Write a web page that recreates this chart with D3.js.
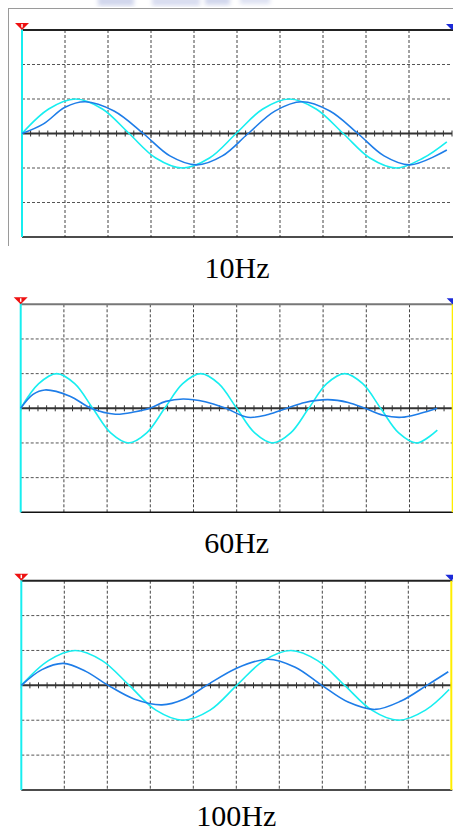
<!DOCTYPE html>
<html>
<head>
<meta charset="utf-8">
<script src="https://cdn.jsdelivr.net/npm/d3@7"></script>
<style>
  html, body { margin: 0; padding: 0; background: #fff; }
  svg { display: block; }
</style>
</head>
<body>
<div id="chart"></div>
<script>
// Traces: [time (div), level (div)]
var cyan10 = [[0,0],[0.62,0.71],[1.24,1],[1.87,0.71],[2.49,0],[3.11,-0.71],[3.73,-1],[4.36,-0.71],[4.98,0],
	[5.6,0.71],[6.22,1],[6.84,0.71],[7.47,0],[8.09,-0.71],[8.71,-1],[9.33,-0.71],[9.88,-0.24]];
var blue10 = [[0,0],[0.5,0.28],[1.0,0.76],[1.47,0.92],[2.14,0.65],[2.82,0],[3.44,-0.65],[4.06,-0.91],[4.66,-0.65],
	[5.26,0],[5.88,0.65],[6.51,0.92],[7.16,0.65],[7.81,0],[8.42,-0.65],[9.02,-0.91],[9.88,-0.48]];

var cyan60 = [[0,0],[0.417,0.71],[0.833,1],[1.25,0.71],[1.667,0],[2.083,-0.71],[2.5,-1],[2.917,-0.71],[3.333,0],
	[3.75,0.71],[4.167,1],[4.583,0.71],[5.0,0],[5.417,-0.71],[5.833,-1],[6.25,-0.71],[6.667,0],[7.083,0.71],
	[7.5,1],[7.917,0.71],[8.333,0],[8.75,-0.71],[9.167,-1],[9.644,-0.63]];
var blue60 = [[0,0],[0.285,0.4],[0.56,0.53],[1.14,0.35],[1.63,0],[2.19,-0.17],[2.65,-0.1],[2.99,0],[3.36,0.2],
	[3.76,0.27],[4.27,0.19],[4.75,0],[5.26,-0.26],[5.73,-0.18],[6.16,0],[6.58,0.17],[7.11,0.25],[7.58,0.17],
	[7.97,0],[8.39,-0.2],[8.81,-0.26],[9.24,-0.15],[9.64,0]];

var cyan100 = [[0,0],[0.63,0.71],[1.25,1],[1.88,0.71],[2.51,0],[3.13,-0.71],[3.76,-1],[4.39,-0.71],[5.01,0],
	[5.64,0.71],[6.27,1],[6.89,0.71],[7.52,0],[8.15,-0.71],[8.77,-1],[9.4,-0.71],[9.95,-0.12]];
var blue100 = [[0,0],[0.48,0.45],[0.98,0.63],[1.5,0.4],[2.02,0],[2.64,-0.4],[3.27,-0.56],[3.78,-0.4],[4.31,0],
	[5.02,0.5],[5.74,0.75],[6.37,0.52],[6.99,0],[7.6,-0.48],[8.23,-0.69],[8.83,-0.45],[9.43,0],[9.93,0.39]];

var panelLabels = ["10Hz", "60Hz", "100Hz"];

var W = 453, H = 832;
var svg = d3.select("#chart").append("svg")
	.attr("width", W)
	.attr("height", H);

// faint watermark smudge at the very top
var defs = svg.append("defs");
defs.append("filter").attr("id", "blur")
	.append("feGaussianBlur").attr("stdDeviation", 2);
var wm = svg.append("g").attr("filter", "url(#blur)").attr("opacity", 0.45);
wm.append("rect").attr("x", 98).attr("y", -4).attr("width", 36).attr("height", 10).attr("fill", "#9aa6d6");
wm.append("rect").attr("x", 152).attr("y", -4).attr("width", 48).attr("height", 10).attr("fill", "#aab4de");
wm.append("rect").attr("x", 205).attr("y", -4).attr("width", 25).attr("height", 9).attr("fill", "#9aa6d6");
wm.append("rect").attr("x", 240).attr("y", -4).attr("width", 30).attr("height", 8).attr("fill", "#b4bde2");

// Panel boxes (pixel layout)
var panels = [
	{x0: 22, x1: 452, y0: 30, y1: 237, labelY: 278, cyan: cyan10, blue: blue10, frame: true, yellow: false, topColor: "#222"},
	{x0: 20.7, x1: 452.7, y0: 304.3, y1: 512.3, labelY: 553, cyan: cyan60, blue: blue60, frame: false, yellow: true, topColor: "#777"},
	{x0: 21.3, x1: 451.3, y0: 580.7, y1: 790, labelY: 826, cyan: cyan100, blue: blue100, frame: false, yellow: true, topColor: "#222"}
];

var cyanColor = "#17eef0";
var blueColor = "#1e7de8";

panels.forEach(function(p, idx) {
	var x = d3.scaleLinear().domain([0, 10]).range([p.x0, p.x1]);
	var y = d3.scaleLinear().domain([-3, 3]).range([p.y1, p.y0]);

	var g = svg.append("g").attr("class", "panel");

	if (p.frame) {
		g.append("line").attr("x1", 8).attr("x2", W).attr("y1", 8.5).attr("y2", 8.5)
			.attr("stroke", "#9a9a9a").attr("stroke-width", 1);
		g.append("line").attr("x1", 8.5).attr("x2", 8.5).attr("y1", 8).attr("y2", 246)
			.attr("stroke", "#9a9a9a").attr("stroke-width", 1);
	}

	// dashed grid
	g.append("g").selectAll("line")
		.data(d3.range(1, 10))
		.enter().append("line")
		.attr("x1", function(d) { return x(d); })
		.attr("x2", function(d) { return x(d); })
		.attr("y1", p.y0)
		.attr("y2", p.y1)
		.attr("stroke", "#444")
		.attr("stroke-width", 1)
		.attr("stroke-dasharray", "3,2");

	g.append("g").selectAll("line")
		.data([-2, -1, 1, 2])
		.enter().append("line")
		.attr("x1", p.x0)
		.attr("x2", p.x1)
		.attr("y1", function(d) { return y(d); })
		.attr("y2", function(d) { return y(d); })
		.attr("stroke", "#555")
		.attr("stroke-width", 1)
		.attr("stroke-dasharray", "3,2");

	// centre axis with minor ticks
	g.append("line")
		.attr("x1", p.x0).attr("x2", p.x1)
		.attr("y1", y(0)).attr("y2", y(0))
		.attr("stroke", "#333").attr("stroke-width", 2);

	g.append("g").selectAll("line")
		.data(d3.range(0, 10.01, 0.2))
		.enter().append("line")
		.attr("x1", function(d) { return x(d); })
		.attr("x2", function(d) { return x(d); })
		.attr("y1", y(0) - 3)
		.attr("y2", y(0) + 3)
		.attr("stroke", "#333")
		.attr("stroke-width", 1);

	// top and bottom borders
	g.append("line").attr("x1", p.x0).attr("x2", p.x1 + 1)
		.attr("y1", p.y0).attr("y2", p.y0)
		.attr("stroke", p.topColor).attr("stroke-width", 2);
	g.append("line").attr("x1", p.x0).attr("x2", p.x1 + 1)
		.attr("y1", p.y1).attr("y2", p.y1)
		.attr("stroke", "#111").attr("stroke-width", 1.5);

	if (p.yellow) {
		g.append("line").attr("x1", p.x1).attr("x2", p.x1)
			.attr("y1", p.y0).attr("y2", p.y1)
			.attr("stroke", "#ffee00").attr("stroke-width", 2);
	}

	// trigger line on the left
	g.append("line").attr("x1", p.x0).attr("x2", p.x0)
		.attr("y1", p.y0 - 2).attr("y2", p.y1)
		.attr("stroke", cyanColor).attr("stroke-width", 2);

	var line = d3.line()
		.x(function(d) { return x(d[0]); })
		.y(function(d) { return y(d[1]); })
		.curve(d3.curveCatmullRom.alpha(0.5));

	g.append("path").datum(p.cyan)
		.attr("d", line)
		.attr("fill", "none")
		.attr("stroke", cyanColor)
		.attr("stroke-width", 1.6);

	g.append("path").datum(p.blue)
		.attr("d", line)
		.attr("fill", "none")
		.attr("stroke", blueColor)
		.attr("stroke-width", 1.6);

	// channel markers
	var mx = p.x0, my = p.y0;
	g.append("path")
		.attr("d", "M" + (mx - 7) + "," + (my - 7) + "L" + (mx + 7) + "," + (my - 7) + "L" + mx + "," + my + "Z")
		.attr("fill", "#ee1111");
	g.append("line").attr("x1", mx).attr("x2", mx).attr("y1", my - 6).attr("y2", my - 2.5)
		.attr("stroke", "#fff").attr("stroke-width", 1.5);

	var bx = p.x1;
	g.append("path")
		.attr("d", "M" + (bx - 6) + "," + (my - 6) + "L" + (bx + 6) + "," + (my - 6) + "L" + bx + "," + my + "Z")
		.attr("fill", "#1c2bd8");

	// caption
	svg.append("text")
		.attr("x", (p.x0 + p.x1) / 2)
		.attr("y", p.labelY)
		.attr("text-anchor", "middle")
		.style("font-family", "'Liberation Serif', 'Times New Roman', serif")
		.style("font-size", "30px")
		.attr("fill", "#000")
		.text(panelLabels[idx]);
});
</script>
</body>
</html>
